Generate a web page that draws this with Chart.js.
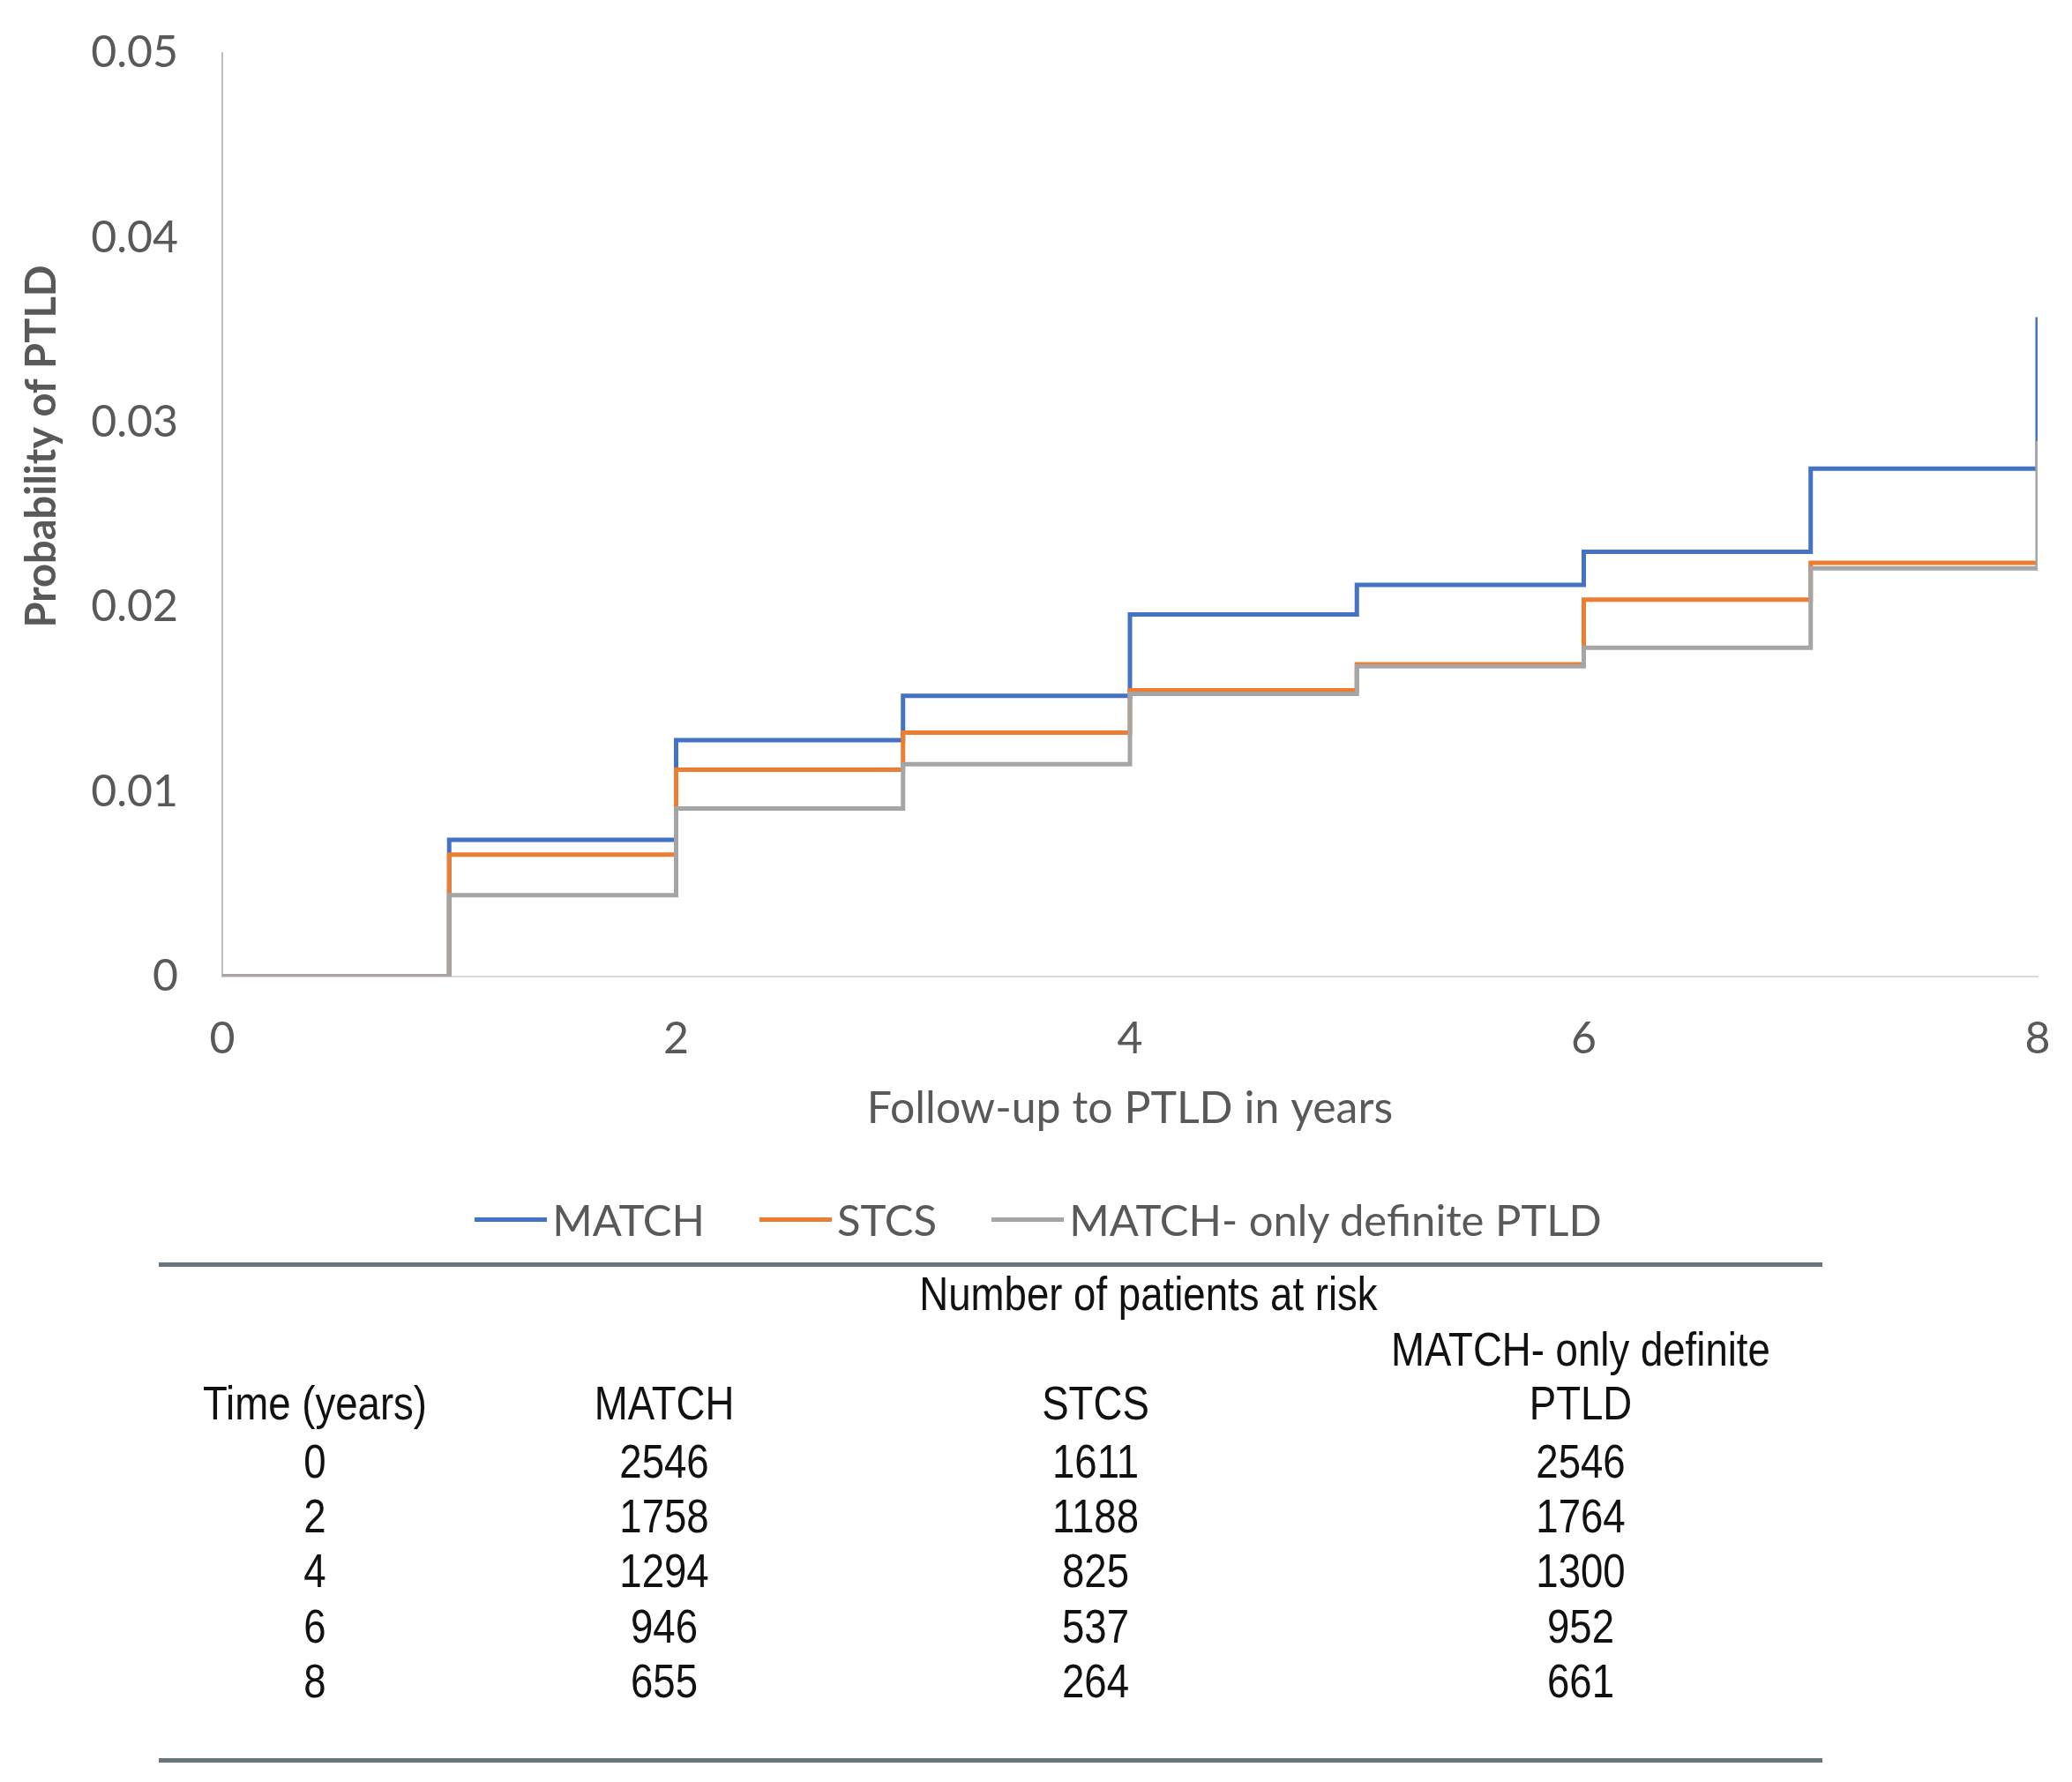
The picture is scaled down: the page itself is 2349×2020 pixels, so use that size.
<!DOCTYPE html>
<html>
<head>
<meta charset="utf-8">
<script src="https://cdn.jsdelivr.net/npm/chart.js@4.4.1/dist/chart.umd.min.js"></script>
<style>
  html, body { margin: 0; padding: 0; background: #fff; }
  #wrap { position: relative; width: 2349px; height: 2020px; overflow: hidden; }
  #chartBox { position: absolute; left: 0; top: 0; width: 2349px; height: 1310px; }
  #leyenda { position: absolute; left: 0; top: 1382px; width: 2354px; transform: translateY(-50%);
             display: flex; justify-content: center; align-items: center;
             font-family: Lato, "Open Sans", sans-serif; font-size: 49px; color: #595959; }
  .item { display: flex; align-items: center; margin: 0 31px; }
  .linea { width: 82px; height: 5px; margin-right: 6px; }
  .rule { position: absolute; left: 180px; width: 1886px; height: 5px; background: #67757e; }
  .cell { position: absolute; transform: translate(-50%, -50%) scaleX(0.86); white-space: nowrap;
          font-family: "Liberation Sans", Arial, sans-serif; font-size: 53px; color: #111; }
</style>
</head>
<body>
<div id="wrap">
  <div id="chartBox"><canvas id="grafico"></canvas></div>
  <div id="leyenda"></div>
  <div class="rule" style="top:1431px"></div>
  <div class="rule" style="top:1993px"></div>
  <div id="tabla"></div>
</div>
<script>
// Curvas acumuladas (escalones): el valor empieza en cada tiempo
const tiempos = [0, 1, 2, 3, 4, 5, 6, 7, 8, 8];
const valoresMatch = [0, 0.0074, 0.0128, 0.0152, 0.0196, 0.0212, 0.0230, 0.0275, 0.0275, 0.0357];
const valoresStcs = [0, 0.0066, 0.0112, 0.0132, 0.0155, 0.0169, 0.0204, 0.0224, 0.0224, 0.0224];
const valoresDefinitivo = [0, 0.0044, 0.0091, 0.0115, 0.0153, 0.0168, 0.0178, 0.0221, 0.0221, 0.0290];
const nombresSeries = ['MATCH', 'STCS', 'MATCH- only definite PTLD'];
const coloresSeries = ['#4472C4', '#ED7D31', '#A5A5A5'];

// Tabla de pacientes en riesgo
const riesgoTiempos = [0, 2, 4, 6, 8];
const riesgoMatch = [2546, 1758, 1294, 946, 655];
const riesgoStcs = [1611, 1188, 825, 537, 264];
const riesgoDefinitivo = [2546, 1764, 1300, 952, 661];

const gris = '#595959';
const fuente = 'Lato, "Open Sans", sans-serif';

function puntos(valores) {
  return tiempos.map((t, i) => ({ x: t, y: valores[i] }));
}

function serie(i, valores) {
  return {
    label: nombresSeries[i],
    data: puntos(valores),
    borderColor: coloresSeries[i],
    backgroundColor: coloresSeries[i],
    borderWidth: 5,
    pointRadius: 0,
    stepped: 'before',
    order: 3 - i   // la ultima serie queda encima, como en Excel
  };
}

// Titulo del eje Y dibujado a mano (Excel no lo centra en el area)
const tituloY = {
  id: 'tituloY',
  afterDraw(chart) {
    const c = chart.ctx;
    c.save();
    c.translate(48, 506);
    c.rotate(-Math.PI / 2);
    c.font = '700 47px ' + fuente;
    c.fillStyle = gris;
    c.textAlign = 'center';
    c.textBaseline = 'middle';
    c.fillText('Probability of PTLD', 0, 0);
    c.restore();
  }
};

const ctx = document.getElementById('grafico').getContext('2d');
new Chart(ctx, {
  type: 'line',
  data: {
    datasets: [
      serie(0, valoresMatch),
      serie(1, valoresStcs),
      serie(2, valoresDefinitivo)
    ]
  },
  options: {
    responsive: true,
    maintainAspectRatio: false,
    animation: false,
    devicePixelRatio: 1,
    layout: { padding: { top: 60, right: 39, left: 0, bottom: 0 } },
    plugins: {
      tooltip: { enabled: false },
      legend: { display: false }
    },
    scales: {
      x: {
        type: 'linear',
        min: 0,
        max: 8,
        grid: { display: false, drawTicks: false },
        border: { color: '#d9d9d9', width: 2 },
        ticks: { stepSize: 2, color: gris, padding: 41, font: { family: fuente, size: 50 } },
        title: {
          display: true,
          text: 'Follow-up to PTLD in years',
          color: gris,
          padding: { top: 0, bottom: 23 },
          font: { family: fuente, size: 50 }
        },
        afterFit: (scale) => {
          scale.height = 203;
          scale.paddingLeft = 0;
          scale.paddingRight = 0;
        }
      },
      y: {
        min: 0,
        max: 0.05,
        grid: { display: false, drawTicks: false },
        border: { color: '#bfbfbf', width: 2 },
        ticks: {
          stepSize: 0.01,
          color: gris,
          padding: 50,
          font: { family: fuente, size: 50 },
          callback: (v) => v === 0 ? '0' : v.toFixed(2)
        },
        afterFit: (scale) => {
          scale.width = 252;
          scale.paddingTop = 0;
          scale.paddingBottom = 0;
        }
      }
    }
  },
  plugins: [tituloY]
});

// Leyenda en HTML para acercar la linea al texto
const leyenda = document.getElementById('leyenda');
nombresSeries.forEach((nombre, i) => {
  const item = document.createElement('div');
  item.className = 'item';
  const linea = document.createElement('div');
  linea.className = 'linea';
  linea.style.background = coloresSeries[i];
  const texto = document.createElement('span');
  texto.textContent = nombre;
  item.appendChild(linea);
  item.appendChild(texto);
  leyenda.appendChild(item);
});

// Construir la tabla de riesgo
const tabla = document.getElementById('tabla');
const columnas = [357, 753, 1242, 1792];
function celda(texto, x, y) {
  const d = document.createElement('div');
  d.className = 'cell';
  d.style.left = x + 'px';
  d.style.top = y + 'px';
  d.textContent = texto;
  tabla.appendChild(d);
}
celda('Number of patients at risk', 1302, 1466);
celda('MATCH- only definite', columnas[3], 1529);
celda('Time (years)', columnas[0], 1590);
celda('MATCH', columnas[1], 1590);
celda('STCS', columnas[2], 1590);
celda('PTLD', columnas[3], 1590);
riesgoTiempos.forEach((t, i) => {
  const y = 1656 + i * 62.2;
  celda(String(t), columnas[0], y);
  celda(String(riesgoMatch[i]), columnas[1], y);
  celda(String(riesgoStcs[i]), columnas[2], y);
  celda(String(riesgoDefinitivo[i]), columnas[3], y);
});
</script>
</body>
</html>
